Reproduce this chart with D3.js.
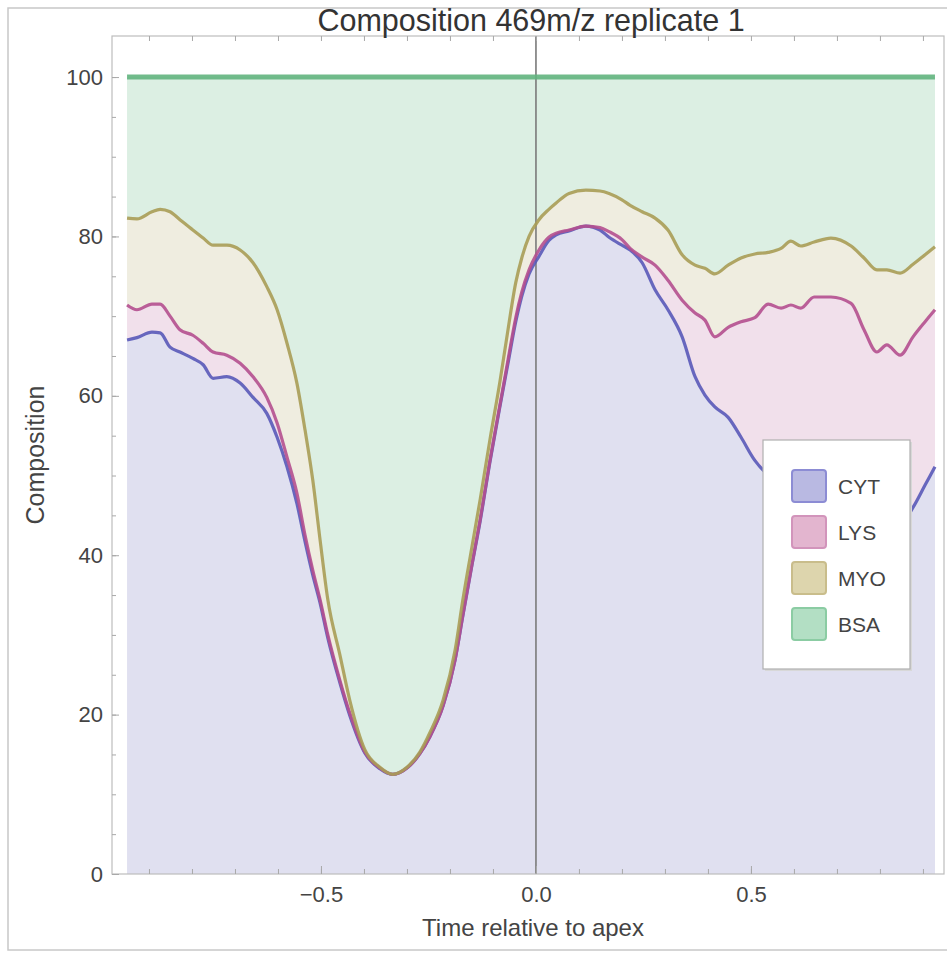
<!DOCTYPE html>
<html>
<head>
<meta charset="utf-8">
<script src="https://cdn.jsdelivr.net/npm/d3@7"></script>
<style>
  body { margin: 0; background: #fff; }
  svg { font-family: "Liberation Sans", Arial, sans-serif; }
</style>
</head>
<body>
<svg id="chart" width="947" height="961"></svg>
<script>
// time relative to apex
const time = [
  -0.951, -0.928, -0.893, -0.874, -0.851, -0.828, -0.798, -0.774, -0.751, -0.719,
  -0.688, -0.658, -0.626, -0.602, -0.579, -0.556, -0.537, -0.519, -0.502, -0.484,
  -0.456, -0.433, -0.398, -0.363, -0.333, -0.300, -0.270, -0.247, -0.216, -0.188,
  -0.170, -0.149, -0.130, -0.107, -0.084, -0.065, -0.047, -0.033, -0.016, 0.007,
  0.030, 0.047, 0.077, 0.116, 0.149, 0.170, 0.200, 0.219, 0.247, 0.277,
  0.307, 0.340, 0.370, 0.393, 0.416, 0.447, 0.477, 0.509, 0.540, 0.570,
  0.593, 0.616, 0.647, 0.686, 0.733, 0.763, 0.793, 0.816, 0.847, 0.877,
  0.905, 0.928
];

// cumulative composition: top edge of each band
const cytTop = [
  67.0, 67.3, 68.0, 67.9, 66.1, 65.5, 64.7, 63.9, 62.2, 62.4,
  61.6, 59.8, 57.8, 54.8, 51.1, 46.5, 41.7, 37.5, 34.0, 29.6,
  24.0, 19.9, 15.2, 13.2, 12.5, 13.3, 15.1, 17.2, 21.1, 26.9,
  32.4, 38.7, 44.2, 51.7, 58.6, 64.1, 69.3, 72.5, 75.3, 77.5,
  79.5, 80.2, 80.7, 81.3, 80.8, 79.9, 78.9, 78.3, 76.7, 73.3,
  70.8, 67.4, 62.4, 60.1, 58.6, 57.3, 54.8, 51.9, 50.1, 49.2,
  48.4, 47.9, 47.6, 46.9, 46.3, 45.4, 44.4, 43.8, 43.8, 46.0,
  48.8, 51.1
];

const lysTop = [
  71.4, 70.8, 71.5, 71.5, 70.0, 68.3, 67.6, 66.6, 65.5, 65.1,
  64.1, 62.4, 59.8, 56.6, 52.3, 47.8, 42.5, 38.1, 34.4, 30.0,
  24.3, 20.2, 15.3, 13.3, 12.5, 13.3, 15.1, 17.2, 21.1, 26.9,
  32.5, 38.8, 44.4, 51.9, 58.8, 64.5, 69.8, 73.0, 75.8, 78.3,
  79.9, 80.4, 80.8, 81.3, 81.1, 80.6, 79.6, 78.5, 77.4, 76.4,
  74.5, 72.0, 70.4, 69.5, 67.4, 68.6, 69.3, 69.8, 71.5, 71.0,
  71.4, 71.0, 72.4, 72.4, 71.6, 68.3, 65.5, 66.4, 65.1, 67.4,
  69.3, 70.8
];

const myoTop = [
  82.3, 82.2, 83.1, 83.4, 83.1, 82.1, 80.8, 79.8, 78.9, 78.9,
  78.3, 76.7, 73.7, 70.8, 66.6, 61.6, 55.7, 49.4, 41.9, 34.4,
  27.5, 21.8, 15.6, 13.4, 12.5, 13.4, 15.3, 17.7, 21.8, 28.1,
  34.4, 41.0, 46.9, 54.5, 61.7, 68.3, 74.2, 77.3, 80.0, 82.1,
  83.4, 84.2, 85.4, 85.8, 85.7, 85.4, 84.6, 83.9, 83.1, 82.3,
  80.8, 77.7, 76.4, 76.0, 75.3, 76.4, 77.3, 77.8, 78.0, 78.5,
  79.4, 78.8, 79.3, 79.8, 78.8, 77.3, 75.8, 75.8, 75.4, 76.5,
  77.7, 78.7
];

const total = 100;

const names = ['CYT', 'LYS', 'MYO', 'BSA'];
const fills = ['#e0e0f0', '#f1e0eb', '#efede0', '#dcefe3'];
const strokes = ['#5959b8', '#b44f8f', '#a99c55', '#62b47e'];
const swatchFills = ['#b9b9e2', '#e3b5cf', '#ddd5ad', '#b3dfc4'];
const swatchStrokes = ['#8c8cd4', '#d294bb', '#c9bd8b', '#8bcca3'];

const xMajor = [-0.5, 0, 0.5];
const xMinor = d3.range(-9, 10).map(d => d / 10);
const yMajor = [0, 20, 40, 60, 80, 100];
const yMinor = d3.range(0, 105, 5);

const rows = time.map((t, i) => ({
  t,
  bands: [[0, cytTop[i]], [cytTop[i], lysTop[i]], [lysTop[i], myoTop[i]], [myoTop[i], total]]
}));

const svg = d3.select('#chart');
const frame = { left: 112, right: 944, top: 36, bottom: 874 };

const x = d3.scaleLinear().domain([-0.986, 0.949]).range([frame.left, frame.right]);
const y = d3.scaleLinear().domain([0, 105]).range([frame.bottom, frame.top + 1.2]);

// outer border
svg.append('rect')
  .attr('x', 8).attr('y', 8).attr('width', 960).attr('height', 942)
  .attr('fill', 'none').attr('stroke', '#c8c8c8').attr('stroke-width', 1.5);

// band fills
names.forEach((name, k) => {
  const area = d3.area()
    .x(d => x(d.t))
    .y0(d => y(d.bands[k][0]))
    .y1(d => y(d.bands[k][1]))
    .curve(d3.curveMonotoneX);
  svg.append('path')
    .datum(rows)
    .attr('d', area)
    .attr('fill', fills[k]);
});

// vertical line at the apex
svg.append('line')
  .attr('x1', x(0)).attr('x2', x(0))
  .attr('y1', frame.top).attr('y2', frame.bottom)
  .attr('stroke', '#7a7a7a').attr('stroke-width', 1.6);

// band edges
names.forEach((name, k) => {
  const line = d3.line()
    .x(d => x(d.t))
    .y(d => y(d.bands[k][1]))
    .curve(d3.curveMonotoneX);
  svg.append('path')
    .datum(rows)
    .attr('d', line)
    .attr('fill', 'none')
    .attr('stroke', strokes[k])
    .attr('stroke-width', k === 3 ? 5 : 3.2)
    .attr('stroke-linejoin', 'round')
    .attr('opacity', 0.9);
});

// frame
svg.append('rect')
  .attr('x', frame.left).attr('y', frame.top)
  .attr('width', frame.right - frame.left).attr('height', frame.bottom - frame.top)
  .attr('fill', 'none').attr('stroke', '#bdbdbd').attr('stroke-width', 1.2);

function styleAxis(g) {
  g.select('.domain').remove();
  g.selectAll('.tick line').attr('stroke', '#a8a8a8');
  g.selectAll('.tick text').attr('fill', '#444').style('font-size', '22px');
}

// x ticks (bottom and top)
svg.append('g').attr('transform', `translate(0,${frame.bottom})`)
  .call(d3.axisBottom(x).tickValues(xMinor).tickSize(-5).tickFormat(''))
  .call(styleAxis);
svg.append('g').attr('transform', `translate(0,${frame.bottom})`)
  .call(d3.axisBottom(x).tickValues(xMajor).tickSize(-8).tickPadding(12).tickFormat(d3.format('.1f')))
  .call(styleAxis);
svg.append('g').attr('transform', `translate(0,${frame.top})`)
  .call(d3.axisTop(x).tickValues(xMinor).tickSize(-5).tickFormat(''))
  .call(styleAxis);

// y ticks
svg.append('g').attr('transform', `translate(${frame.left},0)`)
  .call(d3.axisLeft(y).tickValues(yMinor).tickSize(-4).tickFormat(''))
  .call(styleAxis);
svg.append('g').attr('transform', `translate(${frame.left},0)`)
  .call(d3.axisLeft(y).tickValues(yMajor).tickSize(-7).tickPadding(9).tickFormat(d3.format('d')))
  .call(styleAxis);

// title and axis labels
svg.append('text')
  .attr('x', 531).attr('y', 31)
  .attr('text-anchor', 'middle')
  .attr('fill', '#333')
  .style('font-size', '30.5px')
  .text('Composition 469m/z replicate 1');

svg.append('text')
  .attr('x', 533).attr('y', 936)
  .attr('text-anchor', 'middle')
  .attr('fill', '#444')
  .style('font-size', '24px')
  .text('Time relative to apex');

svg.append('text')
  .attr('transform', 'translate(44,455) rotate(-90)')
  .attr('text-anchor', 'middle')
  .attr('fill', '#444')
  .style('font-size', '25px')
  .text('Composition');

// legend
const legend = svg.append('g').attr('transform', 'translate(763,440)');
legend.append('rect')
  .attr('x', 2).attr('y', 2).attr('width', 147).attr('height', 229)
  .attr('fill', '#d8d8d8');
legend.append('rect')
  .attr('width', 147).attr('height', 229)
  .attr('fill', '#fff').attr('stroke', '#b0b0b0').attr('stroke-width', 1.2);

const item = legend.selectAll('g.item')
  .data(names)
  .join('g')
  .attr('class', 'item')
  .attr('transform', (d, i) => `translate(29,${46 + i * 46})`);

item.append('rect')
  .attr('y', -16).attr('width', 34).attr('height', 32).attr('rx', 3)
  .attr('fill', (d, i) => swatchFills[i])
  .attr('stroke', (d, i) => swatchStrokes[i])
  .attr('stroke-width', 2);

item.append('text')
  .attr('x', 46).attr('dy', '0.36em')
  .attr('fill', '#444')
  .style('font-size', '21px')
  .text(d => d);
</script>
</body>
</html>
